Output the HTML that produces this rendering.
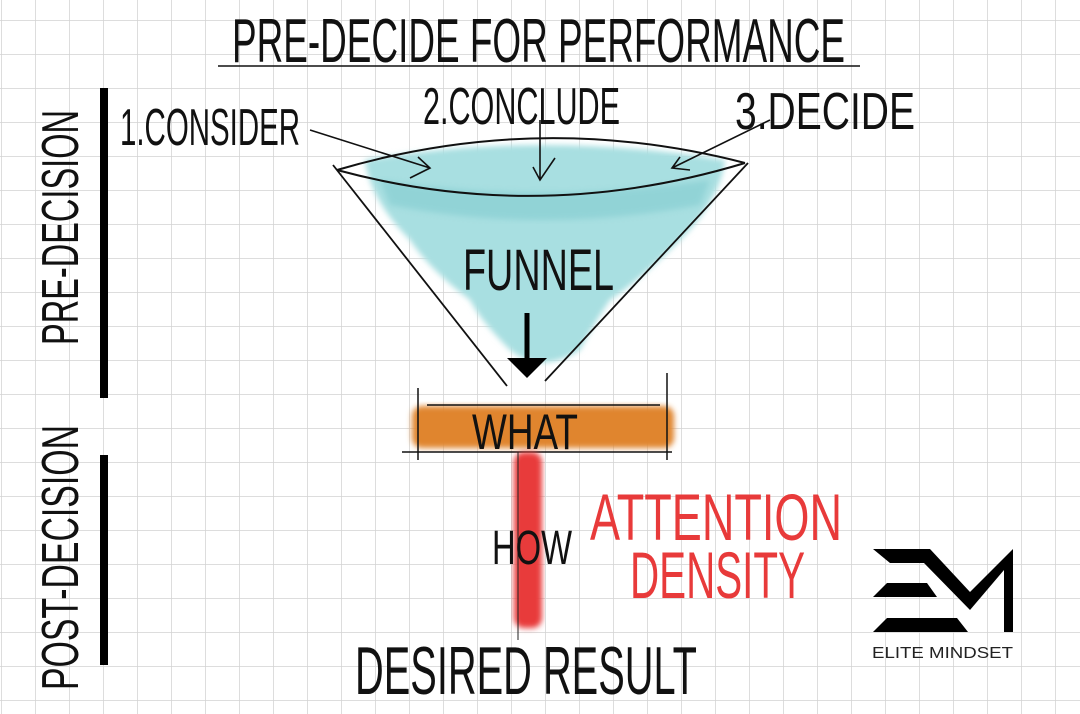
<!DOCTYPE html>
<html><head><meta charset="utf-8"><style>
html,body{margin:0;padding:0;background:#fff}
svg{display:block}
text{font-family:"Liberation Sans Narrow","Liberation Sans",sans-serif}
</style></head><body>
<svg width="1080" height="714" viewBox="0 0 1080 714" xmlns="http://www.w3.org/2000/svg">
<defs>
<pattern id="g" width="34" height="34" patternUnits="userSpaceOnUse" x="1" y="20">
<path d="M0 0H34M0 0V34" stroke="#d2d2d2" stroke-width="1.5" fill="none"/>
</pattern>
<filter id="blur"><feGaussianBlur stdDeviation="3"/></filter>
</defs>
<rect width="1080" height="714" fill="#fff"/>
<rect width="1080" height="714" fill="url(#g)"/>

<text x="232" y="62" font-size="62" textLength="613" lengthAdjust="spacingAndGlyphs" fill="#111">PRE-DECIDE FOR PERFORMANCE</text>
<line x1="218" y1="66" x2="860" y2="66" stroke="#111" stroke-width="1.5"/>

<rect x="100" y="88" width="8" height="310" fill="#000"/>
<rect x="100" y="455" width="8" height="210" fill="#000"/>
<text transform="translate(78,345) rotate(-90)" font-size="52" textLength="235" lengthAdjust="spacingAndGlyphs" fill="#111">PRE-DECISION</text>
<text transform="translate(78,690) rotate(-90)" font-size="52" textLength="265" lengthAdjust="spacingAndGlyphs" fill="#111">POST-DECISION</text>

<path d="M365 160 Q540 130 725 160 Q720 200 680 240 Q640 280 610 300 Q590 330 580 350 Q540 375 510 350 Q480 320 470 300 Q430 270 410 240 Q370 200 365 160Z" fill="#a8dfe1" filter="url(#blur)"/>
<path d="M380 180 Q540 205 710 180 L700 205 Q540 235 390 205Z" fill="#7cc8cc" opacity="0.5" filter="url(#blur)"/>
<path d="M337 170 Q540 110 745 163" stroke="#111" stroke-width="2" fill="none"/>
<path d="M337 170 Q540 225 745 163" stroke="#111" stroke-width="2" fill="none"/>
<line x1="333" y1="165" x2="507" y2="386" stroke="#111" stroke-width="1.8"/>
<line x1="748" y1="163" x2="545" y2="381" stroke="#111" stroke-width="1.8"/>

<text x="463" y="290" font-size="58" textLength="151" lengthAdjust="spacingAndGlyphs" fill="#111">FUNNEL</text>
<line x1="527" y1="313" x2="527" y2="362" stroke="#000" stroke-width="5"/>
<path d="M507 358 L547 358 L527 378Z" fill="#000"/>

<text x="120" y="145" font-size="52" textLength="180" lengthAdjust="spacingAndGlyphs" fill="#111">1.CONSIDER</text>
<text x="423" y="124" font-size="52" textLength="197" lengthAdjust="spacingAndGlyphs" fill="#111">2.CONCLUDE</text>
<text x="735" y="129" font-size="52" textLength="180" lengthAdjust="spacingAndGlyphs" fill="#111">3.DECIDE</text>
<g stroke="#111" stroke-width="1.6" fill="none">
<path d="M310 130 L430 168 M418 157 L430 168 L410 178"/>
<path d="M540 120 L540 180 M533 167 L540 180 L555 158"/>
<path d="M770 120 L672 168 M680 157 L672 168 L690 170"/>
</g>

<rect x="412" y="406" width="262" height="42" rx="10" fill="#e0852f" filter="url(#blur)"/>
<line x1="427" y1="405" x2="660" y2="405" stroke="#111" stroke-width="1.5"/>
<line x1="402" y1="452" x2="672" y2="452" stroke="#111" stroke-width="1.5"/>
<line x1="418" y1="388" x2="418" y2="460" stroke="#111" stroke-width="1.5"/>
<line x1="667" y1="373" x2="667" y2="460" stroke="#111" stroke-width="1.5"/>
<text x="472" y="449" font-size="50" textLength="106" lengthAdjust="spacingAndGlyphs" fill="#111">WHAT</text>

<rect x="514" y="452" width="28" height="176" rx="10" fill="#e83a3a" filter="url(#blur)"/>
<line x1="518" y1="452" x2="518" y2="640" stroke="#222" stroke-width="1"/>
<text x="492" y="564" font-size="48" textLength="80" lengthAdjust="spacingAndGlyphs" fill="#111">HOW</text>

<text x="590" y="540" font-size="66" textLength="252" lengthAdjust="spacingAndGlyphs" fill="#e83a3a">ATTENTION</text>
<text x="630" y="598" font-size="66" textLength="175" lengthAdjust="spacingAndGlyphs" fill="#e83a3a">DENSITY</text>

<text x="355" y="694" font-size="68" textLength="342" lengthAdjust="spacingAndGlyphs" fill="#111">DESIRED RESULT</text>

<g fill="#000">
<path d="M873 549 L930 549 L970 592 L1013 549 L1013 632 L1004 632 L1004 570 L970 610 L924 563 L890 563Z"/>
<path d="M887 583 L927 583 L937 597 L873 597Z"/>
<path d="M887 618 L957 618 L968 632 L873 632Z"/>
</g>
<text x="872" y="658" font-size="16" textLength="141" lengthAdjust="spacingAndGlyphs" fill="#222" style="font-family:'Liberation Sans',sans-serif">ELITE MINDSET</text>
</svg>
</body></html>
